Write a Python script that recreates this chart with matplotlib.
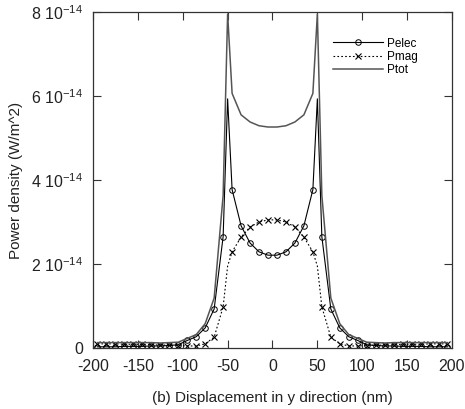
import matplotlib
matplotlib.use("Agg")
import matplotlib.pyplot as plt

plt.rcParams["font.family"] = ["Liberation Sans", "DejaVu Sans"]
plt.rcParams["mathtext.fontset"] = "custom"
plt.rcParams["mathtext.rm"] = "Liberation Sans"
plt.rcParams["axes.unicode_minus"] = False

# displacement (nm)
y_nm = [-195, -185, -175, -165, -155, -145, -135, -125, -115, -105, -95, -85, -75, -65, -55,
        -50,
        -45, -35, -25, -15, -5, 5, 15, 25, 35, 45,
        50,
        55, 65, 75, 85, 95, 105, 115, 125, 135, 145, 155, 165, 175, 185, 195]

# power density in units of 1e-14 W/m^2
pelec = [0.03, 0.03, 0.03, 0.04, 0.04, 0.04, 0.05, 0.05, 0.06, 0.08, 0.18, 0.27, 0.48, 0.93, 2.65,
         5.93,
         3.77, 2.91, 2.50, 2.29, 2.21, 2.21, 2.29, 2.50, 2.91, 3.77,
         5.93,
         2.65, 0.93, 0.48, 0.27, 0.18, 0.08, 0.06, 0.05, 0.05, 0.04, 0.04, 0.04, 0.03, 0.03, 0.03]

pmag = [0.10, 0.10, 0.10, 0.09, 0.09, 0.09, 0.08, 0.07, 0.07, 0.06, 0.05, 0.05, 0.10, 0.26, 0.98,
        1.95,
        2.29, 2.64, 2.88, 3.00, 3.05, 3.05, 3.00, 2.88, 2.64, 2.29,
        1.95,
        0.98, 0.26, 0.10, 0.05, 0.05, 0.06, 0.07, 0.07, 0.08, 0.09, 0.09, 0.09, 0.10, 0.10, 0.10]

ptot = [0.13, 0.13, 0.13, 0.13, 0.13, 0.13, 0.13, 0.12, 0.13, 0.14, 0.23, 0.32, 0.58, 1.19, 3.63,
        7.95,
        6.06, 5.55, 5.38, 5.29, 5.26, 5.26, 5.29, 5.38, 5.55, 6.06,
        7.95,
        3.63, 1.19, 0.58, 0.32, 0.23, 0.14, 0.13, 0.12, 0.13, 0.13, 0.13, 0.13, 0.13, 0.13, 0.13]

yticks = [0, 2, 4, 6, 8]
ytick_labels = ["0", r"2 10$^{\mathregular{-14}}$", r"4 10$^{\mathregular{-14}}$",
                r"6 10$^{\mathregular{-14}}$", r"8 10$^{\mathregular{-14}}$"]
xticks = [-200, -150, -100, -50, 0, 50, 100, 150, 200]

# no markers drawn on the two peak samples
marks = [i for i, v in enumerate(y_nm) if abs(v) != 50]

fig = plt.figure(figsize=(4.65, 4.09), dpi=100)
ax = fig.add_axes([0.2, 0.149, 0.772, 0.822])

ax.plot(y_nm, pelec, color="black", lw=0.8, marker="o", ms=4, mfc="none", mew=0.7,
        markevery=marks, label="Pelec")
ax.plot(y_nm, pmag, color="black", lw=0.8, ls=(0, (1.5, 2)), marker="x", ms=4, mew=0.8,
        markevery=marks, label="Pmag")
ax.plot(y_nm, ptot, color="#555555", lw=1.1, label="Ptot")

ax.set_xlim(-200, 200)
ax.set_ylim(0, 8)
ax.set_xticks(xticks)
ax.set_yticks(yticks)
ax.set_yticklabels(ytick_labels)
ax.tick_params(direction="in", length=6, width=0.8, top=True, right=True,
               labelsize=11.5, pad=7, color="#333333", labelcolor="#222222")
ax.tick_params(axis="x", pad=8)
for s in ax.spines.values():
    s.set_linewidth(0.9)
    s.set_color("#333333")

ax.set_xlabel("(b) Displacement in y direction (nm)", fontsize=11, labelpad=12, color="#222222")
ax.set_ylabel("Power density (W/m^2)", fontsize=11, labelpad=6, color="#222222")

ax.legend(loc="upper right", bbox_to_anchor=(0.935, 0.955), frameon=False, fontsize=8.5,
          handlelength=4.2, handletextpad=0.4, labelspacing=0.1)

fig.savefig("out.png", dpi=100)
